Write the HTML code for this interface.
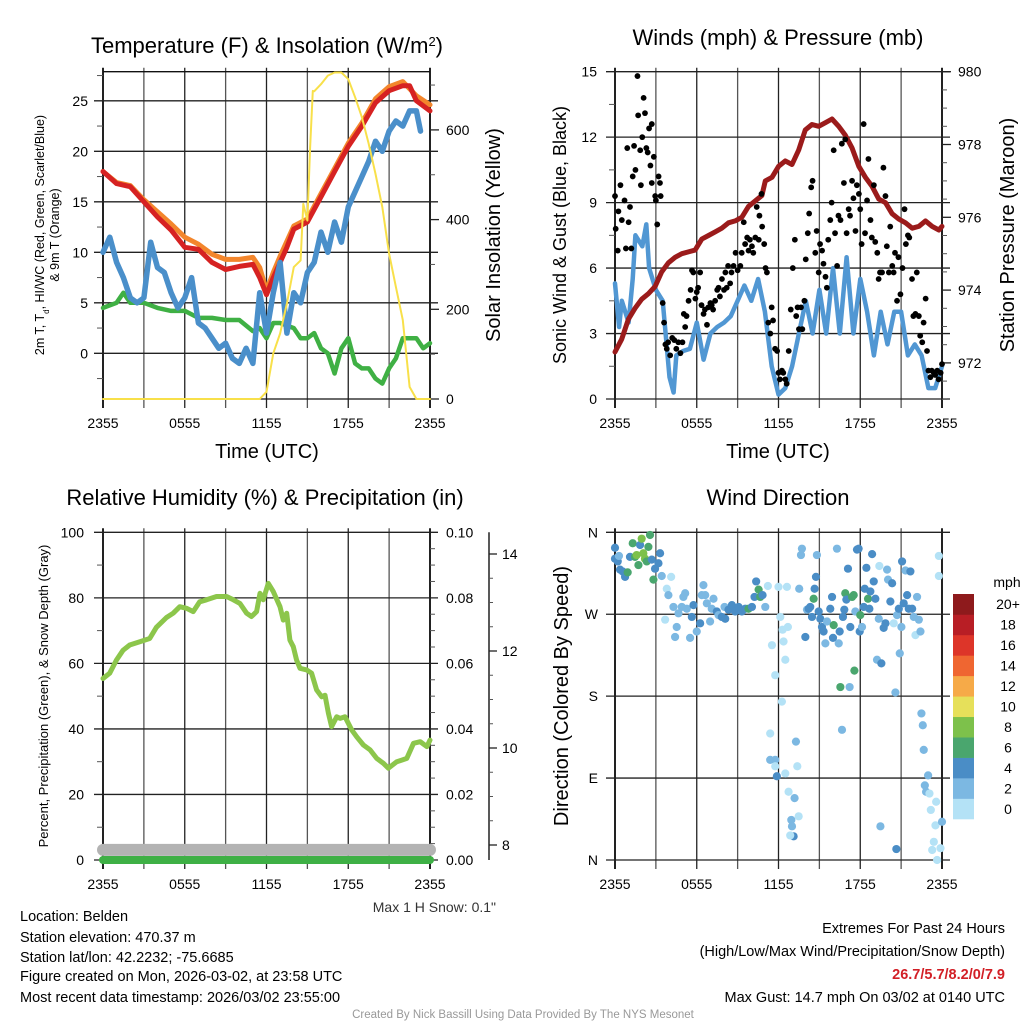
<!DOCTYPE html>
<html><head><meta charset="utf-8">
<style>
html,body{margin:0;padding:0;background:#fff;}
svg{display:block;font-family:"Liberation Sans",sans-serif;}
</style></head>
<body>
<svg id="chart" width="1024" height="1024" viewBox="0 0 1024 1024" xmlns="http://www.w3.org/2000/svg"></svg>
<script>
// ---------- DATA ----------
const timeTickLabels = ["2355","0555","1155","1755","2355"];
// Temperature panel
const tRedH = [0,1,2,3,4,5,6,7,8,9,10,11,11.5,12,12.5,13,13.5,14,15,16,17,18,19,20,21,22,22.5,23,24];
const tRedV = [18,16.8,16.5,15,13.5,12.2,10.5,10.3,9,8.3,8.6,8.8,7.5,5.8,7.5,9,10.5,12.3,13,15.5,18,20.5,22.5,24.8,26,26.5,26.5,25,24];
const tOrgH = [0,1,2,3,4,5,6,7,8,9,10,11,11.5,12,12.5,13,14,15,16,17,18,19,20,21,22,23,24];
const tOrgV = [18,16.9,16.6,15.2,14,12.8,11.5,10.8,9.8,9.3,9.3,9.5,8.5,6.2,8,9.6,12.6,13.3,15.8,18.3,20.8,22.8,25.2,26.4,26.9,25.5,24.6];
const tBlueH = [0,0.5,1,1.5,2,2.5,3,3.5,4,4.5,5,5.5,6,6.5,7,7.5,8,8.5,9,9.5,10,10.5,11,11.5,12,12.5,13,13.5,14,14.5,15,15.5,16,16.5,17,17.5,18,18.5,19,19.5,20,20.5,21,21.5,22,22.5,23,23.3];
const tBlueV = [10,11.5,9,7.5,5.5,5,5.5,11,8.5,8,6,4.5,5.5,7.5,3,2.5,1.5,0.5,1,-0.5,-1,0.5,-1,6,2,6,9,2,6,5,8,9,12,10,13,11,14.5,16,17.5,19,21,20,22,23,22.5,24,24,22];
const tGrnH = [0,1,1.5,2,3,4,5,6,7,8,9,10,11,11.5,12,12.5,13,14,14.5,15,15.5,16,16.5,17,17.5,18,18.5,19,19.5,20,20.5,21,21.5,22,22.5,23,23.5,24];
const tGrnV = [4.5,5,6,5,5,4.5,4.2,4.2,3.5,3.5,3.3,3.3,2.2,2.5,1.5,3,3,2.5,1.5,1.5,2,0.5,0,-2,0.5,1.5,-1,-1.5,-1.5,-2.5,-3,-1.5,-0.5,1.5,1.5,1.5,0.5,1];
const solH = [0,11.5,12,12.5,13,13.5,14,14.5,14.7,15,15.2,15.4,15.5,16,16.5,17,17.5,18,18.5,19,19.5,20,20.5,21,21.5,22,22.5,23,24];
const solV = [0,0,16,102,146,213,294,309,435,398,560,687,686,702,721,728,728,713,673,628,569,502,428,324,250,176,27,0,0];
// Winds panel
const windH = [0,0.3,0.5,1,1.3,1.5,2,2.3,2.5,3,3.5,4,4.3,4.5,5,5.5,6,6.5,7,7.5,8,8.5,9,9.5,10,10.5,11,11.5,12,12.5,13,13.5,14,14.5,15,15.5,16,16.5,17,17.5,18,18.5,19,19.5,20,20.5,21,21.5,22,22.5,23,23.5,24];
const windV = [5.3,3.3,4.5,3.5,5.5,7.5,7,8,6,5,4.5,1,0.3,2,2.2,2.3,3.5,1.8,3,3.3,3.5,3.8,4.5,5.2,4.5,5.5,4,1.5,0.2,0.5,1.5,3,4.5,3,5,3,6,3,6.5,3,5.5,4,2,4,2.5,4,4,2,2.5,2,0.5,0.5,1.5];
const gustH = [0,0.05,0.2,0.25,0.4,0.5,0.7,0.8,0.9,1.0,1.1,1.2,1.3,1.4,1.5,1.65,1.7,1.85,1.9,2.0,2.1,2.2,2.3,2.4,2.5,2.6,2.7,2.7,2.85,2.95,3.0,3.1,3.2,3.3,3.35,3.5,3.6,3.7,3.8,3.9,4.05,4.2,4.35,4.5,4.65,4.8,4.95,5.05,5.15,5.25,5.4,5.55,5.65,5.75,5.9,6.0,6.1,6.25,6.35,6.5,6.6,6.75,6.85,7.0,7.1,7.2,7.35,7.5,7.6,7.7,7.85,8.0,8.1,8.2,8.3,8.45,8.55,8.7,8.85,9.0,9.2,9.3,9.45,9.55,9.7,9.8,9.9,10.05,10.15,10.3,10.4,10.55,10.6,10.75,10.8,10.95,11.05,11.15,11.25,11.4,11.5,11.6,11.75,11.9,12.0,12.1,12.25,12.35,12.5,12.6,12.75,12.9,13.05,13.2,13.3,13.4,13.5,13.65,13.75,13.9,14.0,14.15,14.25,14.4,14.5,14.7,14.8,14.95,15.05,15.2,15.3,15.45,15.55,15.65,15.8,15.9,16.05,16.15,16.3,16.4,16.55,16.65,16.8,16.9,17.0,17.15,17.25,17.4,17.5,17.65,17.75,17.9,18.0,18.1,18.25,18.35,18.5,18.6,18.75,18.85,19.0,19.1,19.25,19.35,19.45,19.6,19.7,19.85,19.95,20.1,20.2,20.35,20.45,20.55,20.7,20.8,20.95,21.1,21.25,21.35,21.5,21.6,21.8,21.9,22.05,22.15,22.3,22.4,22.55,22.65,22.8,22.9,23.0,23.15,23.25,23.4,23.5,23.65,23.75,23.9,24.0];
const gustV = [9.3,7.8,6.8,8.6,9.8,8.2,9.1,6.9,11.5,8.1,8.8,6.9,10.2,11.6,10.5,14.8,13,11.4,9.8,12,13.8,13.1,11.5,11.3,12.4,10.7,12.6,9.9,11.1,9.3,9.1,8,10.2,9.9,9.3,4.4,3.5,2.5,2.3,2.6,2,2.8,2.7,2.3,2.6,2.1,2.6,3.9,3.3,3.8,4.5,5,5.9,5.8,4.6,4.9,5.1,5.8,4.3,3.9,4.1,3.4,4.2,4.4,4.3,4.1,4.5,5,5.1,4.7,5.5,5,5.8,5.1,6.1,5.3,5.8,6.1,6.7,5.9,6.1,6.7,8.1,7.1,7.4,6.8,7.3,7,6.7,7.4,8.8,7.3,8.4,9.4,7.9,7.1,6,5.8,3.5,3,4.2,3.6,2.3,2.2,1.2,0.9,1.3,1.2,0.9,0.7,2.2,4.1,6,7.3,3.8,4.2,3.2,4.2,3.2,4.5,6.4,7.6,8.5,9.7,10,6.7,7.7,5.8,7.1,6.8,6.2,5.6,5.1,7.3,8.2,9,11.4,7.6,6.1,8.4,8.2,11.7,9.9,11.9,7.6,8.7,8.4,10,9.2,7.7,9.8,9.4,8.7,7.1,12.6,7.6,9.1,11,8.2,7.4,9.8,7.2,6.7,5.5,5.8,5.8,10.6,9.3,7,5.8,7.9,6.1,5.8,6.7,4.5,6.5,4.8,6,8.7,7.1,7.5,7.4,5.5,3.8,3.9,5.8,3.8,2.9,2.6,3.5,4.6,2.2,1.3,1,1.3,1.2,1.1,1.3,0.9,1.2,1.6];
const presH = [0,0.49,0.98,1.47,1.96,2.45,2.94,3.43,3.92,4.41,4.9,5.39,5.88,6.37,6.86,7.35,7.84,8.33,8.82,9.31,9.8,10.29,10.78,11.03,11.52,12.01,12.5,12.99,13.48,13.97,14.46,14.95,15.44,15.93,16.42,16.91,17.4,17.89,18.38,18.87,19.36,19.85,20.34,20.83,21.32,21.81,22.3,22.79,23.28,23.77,24];
const presV = [972.3,972.65,973.2,973.5,973.75,973.9,974.1,974.5,974.75,974.9,975.0,975.05,975.1,975.4,975.5,975.6,975.7,975.85,975.9,976.0,976.3,976.45,976.6,977.0,977.1,977.4,977.55,977.45,977.85,978.4,978.55,978.5,978.6,978.7,978.5,978.25,977.9,977.4,977.1,976.85,976.5,976.4,976.1,975.95,975.85,975.7,975.75,975.9,975.75,975.65,975.75];
// RH panel
const rhH = [0,0.49,0.98,1.47,1.96,2.7,3.43,3.92,4.66,5.15,5.64,6.13,6.62,7.1,7.6,8.33,9.07,9.56,10.05,10.54,10.9,11.27,11.52,11.76,12.13,12.5,12.99,13.23,13.48,13.72,13.97,14.21,14.46,14.95,15.31,15.68,16.05,16.29,16.54,16.78,17.15,17.4,17.76,18.25,18.62,19.11,19.6,20.09,20.58,20.95,21.56,21.93,22.3,22.79,23.28,23.77];
const rhV = [55.4,57,61,64,65.6,66.6,67.6,71,74,75.3,77.3,76.8,75.8,78.8,79.4,80.4,80.4,79.4,78.3,75.3,74.3,75.8,81.4,79.4,84.4,81.9,77.3,73.2,75.3,67.1,65.1,61,58.5,58,57,51.9,49.8,50.3,44.8,40.7,43.7,43.2,43.7,39.7,37.6,35.1,33.6,31,29.5,28,30,30.5,31,35.6,36.1,34.6];
const rhLastV = 36.6;
const precipH = [0,24];
const precipV = [0,0];
const snowH = [0,24];
const snowV = [7.9,7.9];
// Wind direction panel
const dirH = [0,0,0.2,0.29,0.37,0.56,0.74,0.93,1.1,1.3,1.47,1.59,1.72,1.84,1.96,2.08,2.2,2.33,2.45,2.57,2.7,2.82,2.94,3.19,3.31,3.43,3.68,3.8,3.92,4.12,4.29,4.41,4.53,4.66,4.9,5.02,5.15,5.27,5.51,5.64,5.76,6.0,6.25,6.37,6.49,6.62,6.74,6.98,7.1,7.23,7.47,7.6,7.84,8.04,8.09,8.33,8.58,8.82,9.07,9.31,9.56,9.8,10.05,10.24,10.36,10.54,10.66,10.83,11.03,11.22,11.52,11.76,12.0,12.13,12.25,12.3,12.37,12.5,12.62,12.69,11.39,11.39,11.76,11.76,11.88,12.5,12.74,12.94,12.99,13.11,12.86,13.18,13.28,13.38,13.48,13.52,13.65,13.72,13.97,14.09,14.21,14.33,14.46,14.58,14.65,14.75,14.82,14.95,15.07,15.19,15.31,15.44,15.56,15.8,15.93,16.0,16.05,16.29,16.42,16.49,16.54,16.66,16.73,16.83,16.9,16.98,17.1,17.22,17.27,17.4,17.52,17.57,17.64,17.76,17.88,17.96,18.0,18.13,18.25,18.33,18.45,18.57,18.67,18.74,18.87,18.99,19.11,19.23,19.36,19.4,19.48,19.55,19.72,19.85,19.97,20.04,20.21,20.34,20.46,20.58,20.65,20.7,20.83,20.9,21.02,21.07,21.19,21.32,21.44,21.56,21.68,21.81,21.93,22.05,22.17,22.3,22.42,22.49,22.59,22.66,22.74,22.83,22.98,23.08,23.18,23.4,23.28,23.52,23.57,23.64,23.77,23.77,23.89,24.0];
const dirV = [343,331,328,334,319,317,311,316,333,348,333,335,324,346,353,337,331,328,344,357,330,308,320,326,337,312,264,298,291,311,278,245,256,271,278,289,293,276,244,267,280,251,260,291,302,291,282,262,276,287,273,269,267,278,265,275,280,273,278,273,276,276,278,289,306,297,289,291,278,301,236,203,300,267,174,253,240,220,300,256,139,110,110,103,92,95,75,44,37,26,27,68,130,103,48,298,335,342,245,275,276,278,267,287,298,311,335,273,265,256,251,238,262,276,289,244,258,342,238,251,190,143,267,275,293,286,320,190,256,289,291,208,273,341,342,251,269,256,278,298,321,287,276,295,336,306,287,220,265,323,37,216,255,260,319,308,284,304,260,184,12,269,276,227,256,328,282,318,291,276,317,276,267,247,289,264,251,161,148,121,82,75,93,73,55,20,11,38,64,0,312,334,13,42];
const dirSpd = [5,5,5,3,5,5,5,7,5,7,7,9,7,5,9,9,9,7,7,7,5,7,5,5,5,3,1,1,3,1,3,3,3,3,3,3,3,3,3,5,5,3,5,3,3,3,3,3,3,3,5,3,5,3,5,5,5,5,5,5,5,7,5,5,5,7,7,5,3,1,1,1,1,1,1,1,1,1,1,1,1,3,3,1,5,1,1,3,3,5,1,3,3,1,1,3,3,3,5,3,5,5,5,7,5,5,3,5,5,5,5,3,3,5,5,5,7,3,3,5,7,3,5,5,7,5,5,3,5,7,7,7,3,5,5,5,7,3,5,5,5,7,5,5,5,5,5,3,3,1,3,5,5,5,3,3,5,5,1,3,5,3,5,3,3,5,5,3,5,5,5,5,3,1,3,3,3,3,3,3,3,3,3,1,1,1,1,1,1,1,1,1,1,3];
const cbLabels = ["0","2","4","6","8","10","12","14","16","18","20+"];
const cbColors = ["#b4e2f6","#7cb8e2","#4a8dc6","#4aa66e","#7dc14b","#e6e05a","#f6aa48","#ef6631","#dd3529","#b81e25","#8e1a1c"];

// ---------- DRAWING ----------
const NS = "http://www.w3.org/2000/svg";
const svg = document.getElementById("chart");
function mk(tag, attrs, parent, name, inter) {
  const e = document.createElementNS(NS, tag);
  for (const k in attrs) e.setAttribute(k, attrs[k]);
  
  
  (parent || svg).appendChild(e);
  return e;
}
function txt(x, y, s, size, anchor, parent, name, extra) {
  const a = {x: x, y: y, "font-size": size, "text-anchor": anchor || "middle", fill: "#000"};
  if (extra) for (const k in extra) a[k] = extra[k];
  const t = mk("text", a, parent, name, false);
  t.textContent = s;
  return t;
}
function rtxt(x, y, s, size, parent, name) {
  return txt(x, y, s, size, "middle", parent, name, {transform: "rotate(-90 " + x + " " + y + ")"});
}
function polyline(H, V, xf, yf, color, w, parent, name) {
  let d = "";
  for (let i = 0; i < H.length; i++) d += (i ? "L" : "M") + xf(H[i]).toFixed(1) + "," + yf(V[i]).toFixed(1);
  return mk("path", {d: d, fill: "none", stroke: color, "stroke-width": w, "stroke-linejoin": "round", "stroke-linecap": "round"}, parent, name, false);
}

const X0L = 103, X1L = 430, X0R = 615, X1R = 942;
function frame(g, x0, x1, y0, y1, prefix) {
  for (let k = 0; k <= 8; k++) {
    const x = x0 + k * (x1 - x0) / 8;
    mk("line", {x1: x, y1: y0 - 4, x2: x, y2: y1 + 9, stroke: k % 2 ? "#555" : "#222", "stroke-width": k === 0 || k === 8 ? 2 : 1.3}, g, prefix + "-vgrid", false);
  }
  for (let k = 0; k < timeTickLabels.length; k++) {
    txt(x0 + k * (x1 - x0) / 4, y1 + 29, timeTickLabels[k], 14, "middle", g, prefix + "-x-tick-label");
  }
}
function hgrid(g, x0, x1, y, prefix) {
  mk("line", {x1: x0 - 9, y1: y, x2: x1 + 8, y2: y, stroke: "#222", "stroke-width": 1.3}, g, prefix + "-hgrid", false);
}
function minorTick(g, x, y, dir, len, prefix) {
  mk("line", {x1: x, y1: y, x2: x + dir * len, y2: y, stroke: "#555", "stroke-width": 1}, g, prefix + "-minor-tick", false);
}

// ===== Panel 1 =====
(function () {
  const g = mk("g", {}, svg, "temperature-panel", false);
  const y0 = 71.7, y1 = 399;
  const xs = h => X0L + h / 24 * (X1L - X0L);
  const yL = v => 353.3 - v * 10.1;
  const yR = w => 399 - w * 0.4485;
  frame(g, X0L, X1L, y0, y1, "temp");
  for (let v = 0; v <= 25; v += 5) { hgrid(g, X0L, X1L, yL(v), "temp"); txt(88, yL(v) + 5, String(v), 14, "end", g, "temp-y-tick-label"); }
  for (let v = -2.5; v <= 27.5; v += 5) minorTick(g, X0L, yL(v), -1, 6, "temp");
  for (let w = 0; w <= 600; w += 200) { mk("line", {x1: X1L, y1: yR(w), x2: X1L + 9, y2: yR(w), stroke: "#222", "stroke-width": 1.3}, g, "solar-major-tick", false); txt(446, yR(w) + 5, String(w), 14, "start", g, "solar-y-tick-label"); }
  for (let w = 100; w <= 700; w += 200) minorTick(g, X1L, yR(w), 1, 5, "solar");
  mk("line", {x1: X0L, y1: y0, x2: X1L, y2: y0, stroke: "#111", "stroke-width": 1.3}, g, "temp-top-border", false);
  mk("line", {x1: X0L, y1: y1, x2: X1L, y2: y1, stroke: "#111", "stroke-width": 1.3}, g, "temp-bottom-border", false);
  polyline(tOrgH, tOrgV, xs, yL, "#f3862c", 5, g, "orange-9m-temp-line");
  polyline(tRedH, tRedV, xs, yL, "#d62222", 5, g, "red-2m-temp-line");
  polyline(tGrnH, tGrnV, xs, yL, "#3fb044", 4.5, g, "green-dewpoint-line");
  polyline(tBlueH, tBlueV, xs, yL, "#4a8fca", 5.5, g, "blue-windchill-line");
  polyline(solH, solV, xs, yR, "#f8e04a", 2, g, "yellow-solar-line");
  const tt = txt(267, 53, "Temperature (F) & Insolation (W/m", 22, "middle", g, "temp-panel-title");
  const sup = document.createElementNS(NS, "tspan"); sup.setAttribute("baseline-shift", "super"); sup.setAttribute("font-size", "13"); sup.textContent = "2"; tt.appendChild(sup);
  const cl = document.createElementNS(NS, "tspan"); cl.textContent = ")"; tt.appendChild(cl);
  txt(267, 458, "Time (UTC)", 20, "middle", g, "temp-x-axis-title");
  rtxt(500, 235, "Solar Insolation (Yellow)", 20, g, "solar-axis-title");
  const t1 = rtxt(44, 235, "2m T, T", 12.5, g, "temp-axis-title-line1");
  const sub = document.createElementNS(NS, "tspan"); sub.setAttribute("baseline-shift", "sub"); sub.setAttribute("font-size", "8"); sub.textContent = "d"; t1.appendChild(sub);
  const rest = document.createElementNS(NS, "tspan"); rest.textContent = ", HI/WC (Red, Green, Scarlet/Blue)"; t1.appendChild(rest);
  rtxt(59, 235, "& 9m T (Orange)", 12.5, g, "temp-axis-title-line2");
})();

// ===== Panel 2 =====
(function () {
  const g = mk("g", {}, svg, "winds-panel", false);
  const y0 = 71.7, y1 = 399;
  const xs = h => X0R + h / 24 * (X1R - X0R);
  const yL = v => 399 - v * 21.82;
  const yR = p => 71.7 + (980 - p) * 36.4;
  frame(g, X0R, X1R, y0, y1, "wind");
  for (let v = 0; v <= 15; v += 3) { hgrid(g, X0R, X1R, yL(v), "wind"); txt(597, yL(v) + 5, String(v), 14, "end", g, "wind-y-tick-label"); }
  for (let v = 1.5; v <= 13.5; v += 3) minorTick(g, X0R, yL(v), -1, 6, "wind");
  for (let p = 972; p <= 980; p += 2) { mk("line", {x1: X1R, y1: yR(p), x2: X1R + 9, y2: yR(p), stroke: "#222", "stroke-width": 1.3}, g, "pressure-major-tick", false); txt(958, yR(p) + 5, String(p), 14, "start", g, "pressure-y-tick-label"); }
  for (let p = 971; p < 980; p += 0.5) if (p % 2 !== 0) minorTick(g, X1R, yR(p), 1, 5, "pressure");
  polyline(windH, windV, xs, yL, "#5197d3", 4.5, g, "sonic-wind-line");
  polyline(presH, presV, xs, yR, "#9b1b1b", 5, g, "pressure-line");
  for (let i = 0; i < gustH.length; i++) {
    const c = mk("circle", {cx: xs(gustH[i]), cy: yL(gustV[i]), r: 2.9, fill: "#000"}, g, "gust-dot", false);
  }
  txt(778, 45, "Winds (mph) & Pressure (mb)", 22, "middle", g, "winds-panel-title");
  txt(778, 458, "Time (UTC)", 20, "middle", g, "winds-x-axis-title");
  rtxt(566, 235, "Sonic Wind & Gust (Blue, Black)", 18, g, "wind-axis-title");
  rtxt(1014, 235, "Station Pressure (Maroon)", 20, g, "pressure-axis-title");
})();

// ===== Panel 3 =====
(function () {
  const g = mk("g", {}, svg, "humidity-panel", false);
  const y0 = 532.3, y1 = 860;
  const xs = h => X0L + h / 24 * (X1L - X0L);
  const yL = v => 860 - v * 3.277;
  const yS = s => 845 - (s - 8) * 48.5;
  frame(g, X0L, X1L, y0, y1, "rh");
  for (let v = 0; v <= 100; v += 20) { hgrid(g, X0L, X1L, yL(v), "rh"); txt(84, yL(v) + 5, String(v), 14, "end", g, "rh-y-tick-label"); txt(446, yL(v) + 5, (v / 1000).toFixed(2), 14, "start", g, "precip-y-tick-label"); }
  for (let v = 10; v <= 90; v += 20) minorTick(g, X0L, yL(v), -1, 6, "rh");
  for (let v = 5; v <= 95; v += 5) if (v % 20 !== 0) minorTick(g, X1L, yL(v), 1, 5, "precip");
  mk("line", {x1: 489, y1: y0, x2: 489, y2: y1, stroke: "#222", "stroke-width": 1.5}, g, "snow-axis-line", false);
  for (let s = 8; s <= 14; s += 2) { mk("line", {x1: 489, y1: yS(s), x2: 497, y2: yS(s), stroke: "#222", "stroke-width": 1.3}, g, "snow-major-tick", false); txt(502, yS(s) + 5, String(s), 14, "start", g, "snow-y-tick-label"); }
  for (let s = 7.5; s <= 14.5; s += 0.5) if (s % 2 !== 0 && yS(s) >= y0 && yS(s) <= y1) minorTick(g, 489, yS(s), 1, 4, "snow");
  polyline(snowH, snowV, xs, yS, "#b3b3b3", 12, g, "snow-depth-line");
  polyline(precipH, precipV, xs, yL, "#3eb045", 8, g, "precip-line");
  polyline(rhH.concat([24]), rhV.concat([rhLastV]), xs, yL, "#8cc64b", 5, g, "rh-line");
  txt(265, 505, "Relative Humidity (%) & Precipitation (in)", 22, "middle", g, "rh-panel-title");
  rtxt(48, 696, "Percent, Precipitation (Green), & Snow Depth (Gray)", 13, g, "rh-axis-title");
  txt(496, 912, "Max 1 H Snow: 0.1\"", 14, "end", g, "max-snow-label", {fill: "#333"});
})();

// ===== Panel 4 =====
(function () {
  const g = mk("g", {}, svg, "wind-direction-panel", false);
  const y0 = 532.3, y1 = 860;
  const xs = h => X0R + h / 24 * (X1R - X0R);
  const yD = d => 860 - d * 0.9103;
  frame(g, X0R, X1R, y0, y1, "dir");
  const dl = ["N","E","S","W","N"];
  for (let k = 0; k < 5; k++) { hgrid(g, X0R, X1R, yD(k * 90), "dir"); txt(598, yD(k * 90) + 5, dl[k], 14, "end", g, "dir-y-tick-label"); }
  for (let i = 0; i < dirH.length; i++) {
    const ci = Math.min(10, Math.floor(dirSpd[i] / 2));
    const c = mk("circle", {cx: xs(dirH[i]), cy: yD(dirV[i]), r: 4.1, fill: cbColors[ci]}, g, "wind-direction-dot", false);
  }
  txt(778, 505, "Wind Direction", 22, "middle", g, "direction-panel-title");
  rtxt(568, 696, "Direction (Colored By Speed)", 20, g, "direction-axis-title");
  const cb = mk("g", {}, g, "speed-colorbar", false);
  const segH = (819 - 594) / cbColors.length;
  for (let i = 0; i < cbColors.length; i++) {
    const yy = 819 - (i + 1) * segH;
    mk("rect", {x: 953, y: yy, width: 21, height: segH + 0.3, fill: cbColors[i]}, cb, "colorbar-segment", false);
    txt(1008, yy + segH / 2 + 5, cbLabels[i], 14, "middle", cb, "colorbar-label");
  }
  txt(1007, 587, "mph", 14, "middle", cb, "colorbar-unit");
})();

// ===== Footer =====
(function () {
  const g = mk("g", {}, svg, "footer", false);
  const left = ["Location: Belden","Station elevation: 470.37 m","Station lat/lon: 42.2232; -75.6685","Figure created on Mon, 2026-03-02, at 23:58 UTC","Most recent data timestamp: 2026/03/02 23:55:00"];
  const ly = [921, 942, 962, 981, 1002];
  for (let i = 0; i < left.length; i++) txt(20, ly[i], left[i], 14.5, "start", g, "station-info-line");
  txt(1005, 933, "Extremes For Past 24 Hours", 14.5, "end", g, "extremes-title");
  txt(1005, 956, "(High/Low/Max Wind/Precipitation/Snow Depth)", 14.5, "end", g, "extremes-subtitle");
  txt(1005, 979, "26.7/5.7/8.2/0/7.9", 14.5, "end", g, "extremes-values", {fill: "#d21f26", "font-weight": "bold"});
  txt(1005, 1002, "Max Gust: 14.7 mph On 03/02 at 0140 UTC", 14.5, "end", g, "max-gust-text");
  txt(523, 1018, "Created By Nick Bassill Using Data Provided By The NYS Mesonet", 11.5, "middle", g, "credit-text", {fill: "#999"});
})();
</script>
</body></html>
